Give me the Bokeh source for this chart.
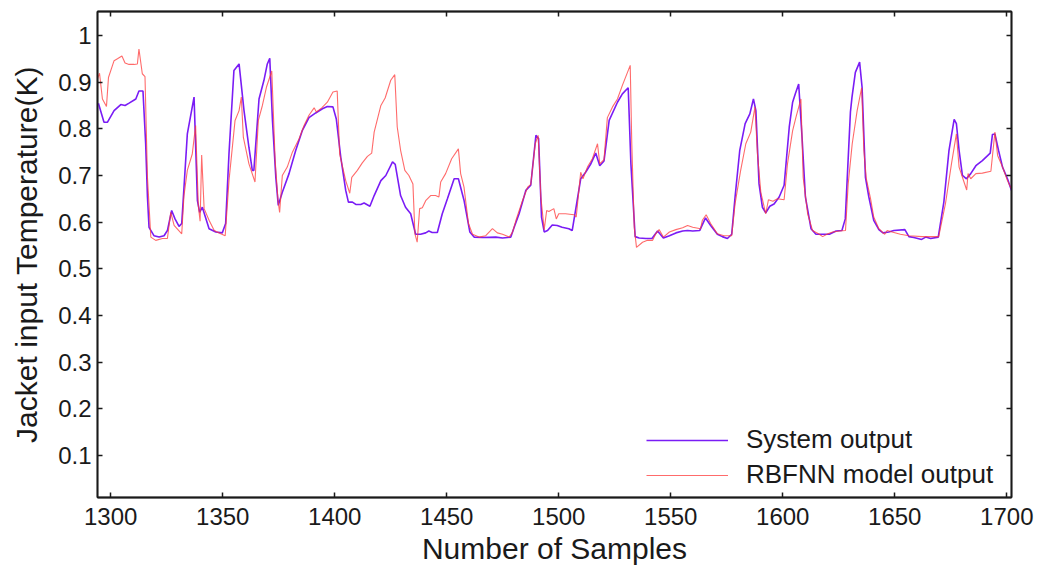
from bokeh.plotting import figure
from bokeh.models import Range1d, LinearAxis, FixedTicker, Legend, LegendItem
from bokeh.embed import file_html
from bokeh.resources import INLINE

# ---- data ----
sys_x = [1294.5, 1297.0, 1298.5, 1301.5, 1304.5, 1306.4, 1308.2, 1311.2, 1312.6, 1314.4,
         1315.6, 1316.4, 1317.1, 1319.3, 1321.6, 1323.8, 1325.3, 1327.2, 1328.7, 1330.5,
         1331.7, 1334.2, 1337.2, 1338.7, 1339.7, 1340.9, 1343.9, 1346.9, 1349.8, 1351.3,
         1352.8, 1355.0, 1357.3, 1359.5, 1361.7, 1363.2, 1363.9, 1366.2, 1368.4, 1369.9,
         1371.0, 1372.2, 1373.7, 1374.8, 1376.6, 1379.6, 1382.6, 1385.5, 1388.5, 1391.5,
         1394.5, 1396.7, 1399.2, 1400.7, 1402.7, 1404.9, 1406.1, 1407.9, 1409.4, 1411.6,
         1413.1, 1415.7, 1417.6, 1420.6, 1422.8, 1425.8, 1427.0, 1429.4, 1431.6, 1433.9,
         1436.1, 1438.3, 1440.6, 1442.0, 1443.5, 1445.8, 1448.0, 1450.3, 1453.3, 1455.2,
         1457.7, 1460.3, 1462.2, 1465.9, 1471.9, 1474.9, 1478.6, 1480.1, 1482.3, 1485.3,
         1487.5, 1489.8, 1491.0, 1492.3, 1493.5, 1495.0, 1497.1, 1499.3, 1501.5, 1504.5,
         1506.0, 1508.2, 1509.8, 1512.0, 1514.2, 1516.5, 1518.3, 1520.2, 1522.5, 1526.2,
         1528.4, 1531.0, 1532.2, 1534.1, 1535.9, 1538.9, 1541.6, 1544.1, 1546.7, 1549.4,
         1552.3, 1555.3, 1557.5, 1559.8, 1562.9, 1565.5, 1567.8, 1570.8, 1573.0, 1575.3,
         1577.2, 1578.7, 1580.8, 1583.2, 1585.3, 1586.9, 1588.0, 1589.4, 1590.9, 1592.4,
         1594.2, 1596.1, 1598.4, 1600.6, 1602.9, 1604.4, 1605.6, 1607.1, 1608.6, 1610.1,
         1612.6, 1614.8, 1617.8, 1620.8, 1623.8, 1626.4, 1627.9, 1630.2, 1630.9, 1632.4,
         1634.3, 1635.4, 1636.9, 1638.4, 1640.6, 1642.9, 1644.7, 1647.3, 1649.6, 1654.5,
         1656.3, 1658.5, 1662.0, 1663.8, 1666.0, 1669.4, 1671.9, 1674.2, 1676.5, 1677.5,
         1678.7, 1680.2, 1682.0, 1683.9, 1686.2, 1689.1, 1692.6, 1693.6, 1694.7, 1696.3,
         1698.1, 1700.3, 1702.1]
sys_y = [0.855, 0.814, 0.814, 0.839, 0.852, 0.850, 0.855, 0.864, 0.881, 0.881,
         0.768, 0.654, 0.589, 0.571, 0.568, 0.571, 0.582, 0.625, 0.607, 0.591,
         0.597, 0.789, 0.868, 0.646, 0.621, 0.632, 0.586, 0.579, 0.577, 0.597,
         0.747, 0.925, 0.939, 0.839, 0.760, 0.711, 0.711, 0.864, 0.904, 0.939,
         0.951, 0.818, 0.696, 0.636, 0.664, 0.704, 0.754, 0.796, 0.824, 0.834,
         0.843, 0.848, 0.847, 0.821, 0.739, 0.668, 0.643, 0.643, 0.638, 0.638,
         0.641, 0.634, 0.657, 0.689, 0.700, 0.729, 0.724, 0.657, 0.632, 0.618,
         0.574, 0.574, 0.577, 0.581, 0.578, 0.578, 0.618, 0.650, 0.693, 0.693,
         0.647, 0.579, 0.568, 0.567, 0.568, 0.566, 0.568, 0.589, 0.618, 0.668,
         0.679, 0.786, 0.779, 0.611, 0.579, 0.582, 0.594, 0.593, 0.589, 0.586,
         0.582, 0.646, 0.693, 0.707, 0.724, 0.748, 0.721, 0.731, 0.818, 0.857,
         0.875, 0.888, 0.725, 0.569, 0.566, 0.565, 0.565, 0.581, 0.566, 0.571,
         0.577, 0.581, 0.582, 0.581, 0.582, 0.609, 0.593, 0.574, 0.569, 0.565,
         0.574, 0.654, 0.754, 0.811, 0.832, 0.864, 0.839, 0.682, 0.632, 0.620,
         0.634, 0.639, 0.654, 0.679, 0.804, 0.857, 0.875, 0.896, 0.782, 0.654,
         0.586, 0.574, 0.574, 0.574, 0.581, 0.582, 0.607, 0.836, 0.868, 0.921,
         0.943, 0.889, 0.696, 0.654, 0.604, 0.584, 0.577, 0.579, 0.582, 0.584,
         0.569, 0.567, 0.563, 0.568, 0.565, 0.568, 0.643, 0.754, 0.820, 0.811,
         0.754, 0.700, 0.693, 0.704, 0.721, 0.732, 0.748, 0.788, 0.789, 0.754,
         0.718, 0.693, 0.668]

rbf_x = [1294.1, 1295.0, 1296.3, 1298.1, 1299.0, 1301.5, 1303.0, 1305.0, 1306.4, 1308.2,
         1310.4, 1311.9, 1312.6, 1314.1, 1315.3, 1316.4, 1317.9, 1320.1, 1323.1, 1325.3,
         1326.8, 1328.3, 1331.7, 1332.7, 1334.2, 1336.4, 1337.9, 1339.1, 1339.9, 1340.6,
         1341.7, 1343.9, 1346.2, 1349.1, 1351.1, 1352.8, 1355.5, 1357.3, 1358.3, 1359.2,
         1361.7, 1364.4, 1365.9, 1367.7, 1369.5, 1371.9, 1373.4, 1374.7, 1375.4, 1376.6,
         1378.8, 1381.1, 1384.1, 1386.3, 1388.5, 1390.8, 1391.8, 1394.2, 1396.7, 1399.2,
         1401.1, 1402.2, 1404.9, 1406.7, 1407.6, 1410.1, 1412.3, 1414.6, 1416.5, 1417.6,
         1420.6, 1422.5, 1425.0, 1426.8, 1427.9, 1429.4, 1431.3, 1433.1, 1434.9, 1435.8,
         1436.8, 1437.9, 1439.1, 1440.6, 1442.8, 1445.0, 1446.5, 1447.3, 1449.5, 1452.2,
         1455.2, 1456.2, 1457.7, 1459.7, 1461.5, 1464.4, 1467.4, 1470.4, 1472.6, 1474.9,
         1477.9, 1479.4, 1480.9, 1483.8, 1486.1, 1487.5, 1489.5, 1490.8, 1492.0, 1493.5,
         1494.6, 1495.6, 1497.8, 1498.9, 1500.0, 1503.0, 1506.8, 1507.8, 1509.8, 1510.8,
         1512.8, 1515.0, 1517.3, 1518.3, 1520.2, 1521.7, 1524.0, 1526.2, 1528.4, 1531.9,
         1532.6, 1533.7, 1534.7, 1537.4, 1539.6, 1541.9, 1543.3, 1544.8, 1546.7, 1549.4,
         1552.3, 1555.3, 1557.5, 1559.8, 1563.3, 1564.1, 1565.8, 1567.8, 1570.8, 1573.8,
         1577.2, 1578.7, 1581.2, 1583.5, 1585.7, 1587.6, 1588.7, 1590.2, 1592.4, 1593.6,
         1595.6, 1597.6, 1600.6, 1602.1, 1604.4, 1605.9, 1608.1, 1609.1, 1611.1, 1613.3,
         1616.3, 1617.8, 1620.1, 1622.3, 1625.3, 1628.0, 1629.2, 1631.0, 1633.2, 1635.2,
         1636.2, 1637.3, 1639.2, 1640.6, 1642.9, 1645.5, 1646.6, 1648.8, 1652.5, 1656.3,
         1662.2, 1669.6, 1672.6, 1675.3, 1677.5, 1678.7, 1680.9, 1682.1, 1682.7, 1683.9,
         1686.2, 1689.1, 1692.9, 1694.7, 1695.9, 1698.1, 1700.3, 1702.1]
rbf_y = [0.907, 0.919, 0.864, 0.848, 0.910, 0.946, 0.950, 0.956, 0.941, 0.938,
         0.938, 0.939, 0.971, 0.918, 0.912, 0.696, 0.568, 0.561, 0.565, 0.565,
         0.621, 0.593, 0.575, 0.657, 0.711, 0.746, 0.807, 0.636, 0.602, 0.744,
         0.629, 0.604, 0.582, 0.575, 0.571, 0.689, 0.818, 0.839, 0.868, 0.782,
         0.725, 0.686, 0.818, 0.850, 0.889, 0.924, 0.732, 0.646, 0.621, 0.700,
         0.718, 0.750, 0.779, 0.807, 0.829, 0.845, 0.836, 0.845, 0.857, 0.879,
         0.881, 0.746, 0.689, 0.662, 0.696, 0.711, 0.727, 0.741, 0.748, 0.793,
         0.850, 0.866, 0.904, 0.916, 0.804, 0.754, 0.711, 0.700, 0.682, 0.575,
         0.557, 0.629, 0.631, 0.646, 0.657, 0.657, 0.654, 0.686, 0.704, 0.736,
         0.757, 0.704, 0.675, 0.597, 0.574, 0.568, 0.571, 0.586, 0.577, 0.574,
         0.568, 0.579, 0.604, 0.646, 0.675, 0.681, 0.768, 0.786, 0.654, 0.584,
         0.625, 0.623, 0.629, 0.607, 0.618, 0.618, 0.616, 0.611, 0.707, 0.693,
         0.718, 0.736, 0.768, 0.725, 0.734, 0.824, 0.847, 0.864, 0.893, 0.936,
         0.768, 0.589, 0.546, 0.557, 0.561, 0.561, 0.575, 0.584, 0.568, 0.579,
         0.584, 0.588, 0.593, 0.589, 0.586, 0.604, 0.616, 0.597, 0.575, 0.571,
         0.571, 0.639, 0.711, 0.768, 0.793, 0.847, 0.746, 0.664, 0.618, 0.648,
         0.645, 0.650, 0.648, 0.725, 0.796, 0.825, 0.864, 0.696, 0.618, 0.582,
         0.574, 0.569, 0.575, 0.579, 0.581, 0.582, 0.682, 0.768, 0.839, 0.888,
         0.754, 0.693, 0.650, 0.611, 0.586, 0.574, 0.582, 0.579, 0.574, 0.571,
         0.569, 0.569, 0.639, 0.725, 0.789, 0.718, 0.686, 0.669, 0.704, 0.693,
         0.704, 0.705, 0.709, 0.793, 0.743, 0.718, 0.689, 0.671]

x_ticks = [1300, 1350, 1400, 1450, 1500, 1550, 1600, 1650, 1700]
y_ticks = [0.1, 0.2, 0.3, 0.4, 0.5, 0.6, 0.7, 0.8, 0.9, 1.0]
series_names = ["System output", "RBFNN model output"]
x_label = "Number of Samples"
y_label = "Jacket input Temperature(K)"

FONT = "Liberation Sans"
AX = "#1a1a1a"

p = figure(width=1042, height=569, output_backend="svg", toolbar_location=None,
           x_range=Range1d(1294.1, 1702.1), y_range=Range1d(0.010, 1.0514),
           x_axis_location=None, y_axis_location=None,
           min_border_left=97, min_border_right=31, min_border_top=11, min_border_bottom=72)
p.background_fill_color = "white"
p.border_fill_color = "white"
p.xgrid.visible = False
p.ygrid.visible = False
p.outline_line_color = AX
p.outline_line_width = 1.5


def style(ax):
    ax.axis_line_color = AX
    ax.axis_line_width = 1.8
    ax.major_tick_in = 5
    ax.major_tick_out = 0
    ax.major_tick_line_color = AX
    ax.major_tick_line_width = 1.5
    ax.minor_tick_line_color = None
    ax.major_label_text_font = FONT
    ax.major_label_text_font_size = "24px"
    ax.major_label_text_color = "#1a1a1a"


bx = LinearAxis(ticker=FixedTicker(ticks=x_ticks))
style(bx)
bx.major_label_standoff = 10
bx.axis_label = x_label
bx.axis_label_text_font = FONT
bx.axis_label_text_font_size = "30px"
bx.axis_label_text_font_style = "normal"
bx.axis_label_text_color = "#1a1a1a"
bx.axis_label_standoff = 4
p.add_layout(bx, "below")

ly = LinearAxis(ticker=FixedTicker(ticks=y_ticks))
style(ly)
ly.major_label_standoff = 6
ly.major_label_overrides = {1: "1"}
ly.axis_label = y_label
ly.axis_label_text_font = FONT
ly.axis_label_text_font_size = "30px"
ly.axis_label_text_font_style = "normal"
ly.axis_label_text_color = "#1a1a1a"
ly.axis_label_standoff = 12
p.add_layout(ly, "left")

# mirrored tick marks on the top and right edges (no labels)
tx = LinearAxis(ticker=FixedTicker(ticks=x_ticks))
style(tx)
tx.major_label_text_alpha = 0
tx.major_label_overrides = {t: " " for t in x_ticks}
tx.major_label_standoff = 0
p.add_layout(tx, "above")

ry = LinearAxis(ticker=FixedTicker(ticks=y_ticks))
style(ry)
ry.major_label_text_alpha = 0
ry.major_label_overrides = {t: " " for t in y_ticks}
ry.major_label_standoff = 0
p.add_layout(ry, "right")

r_sys = p.line(sys_x, sys_y, line_color="#7A1CF5", line_width=1.6)
r_rbf = p.line(rbf_x, rbf_y, line_color="#FF3A3A", line_width=1.1, line_alpha=0.75)

legend = Legend(items=[LegendItem(label=series_names[0], renderers=[r_sys]),
                       LegendItem(label=series_names[1], renderers=[r_rbf])],
                location=(549, 7))
legend.label_text_font = FONT
legend.label_text_font_size = "26px"
legend.label_text_color = "#1a1a1a"
legend.glyph_width = 82
legend.glyph_height = 28
legend.label_standoff = 18
legend.spacing = 4
legend.padding = 6
legend.margin = 0
legend.border_line_color = None
legend.background_fill_alpha = 0.0
p.add_layout(legend, "center")

open("out.html", "w").write(file_html(p, INLINE))
